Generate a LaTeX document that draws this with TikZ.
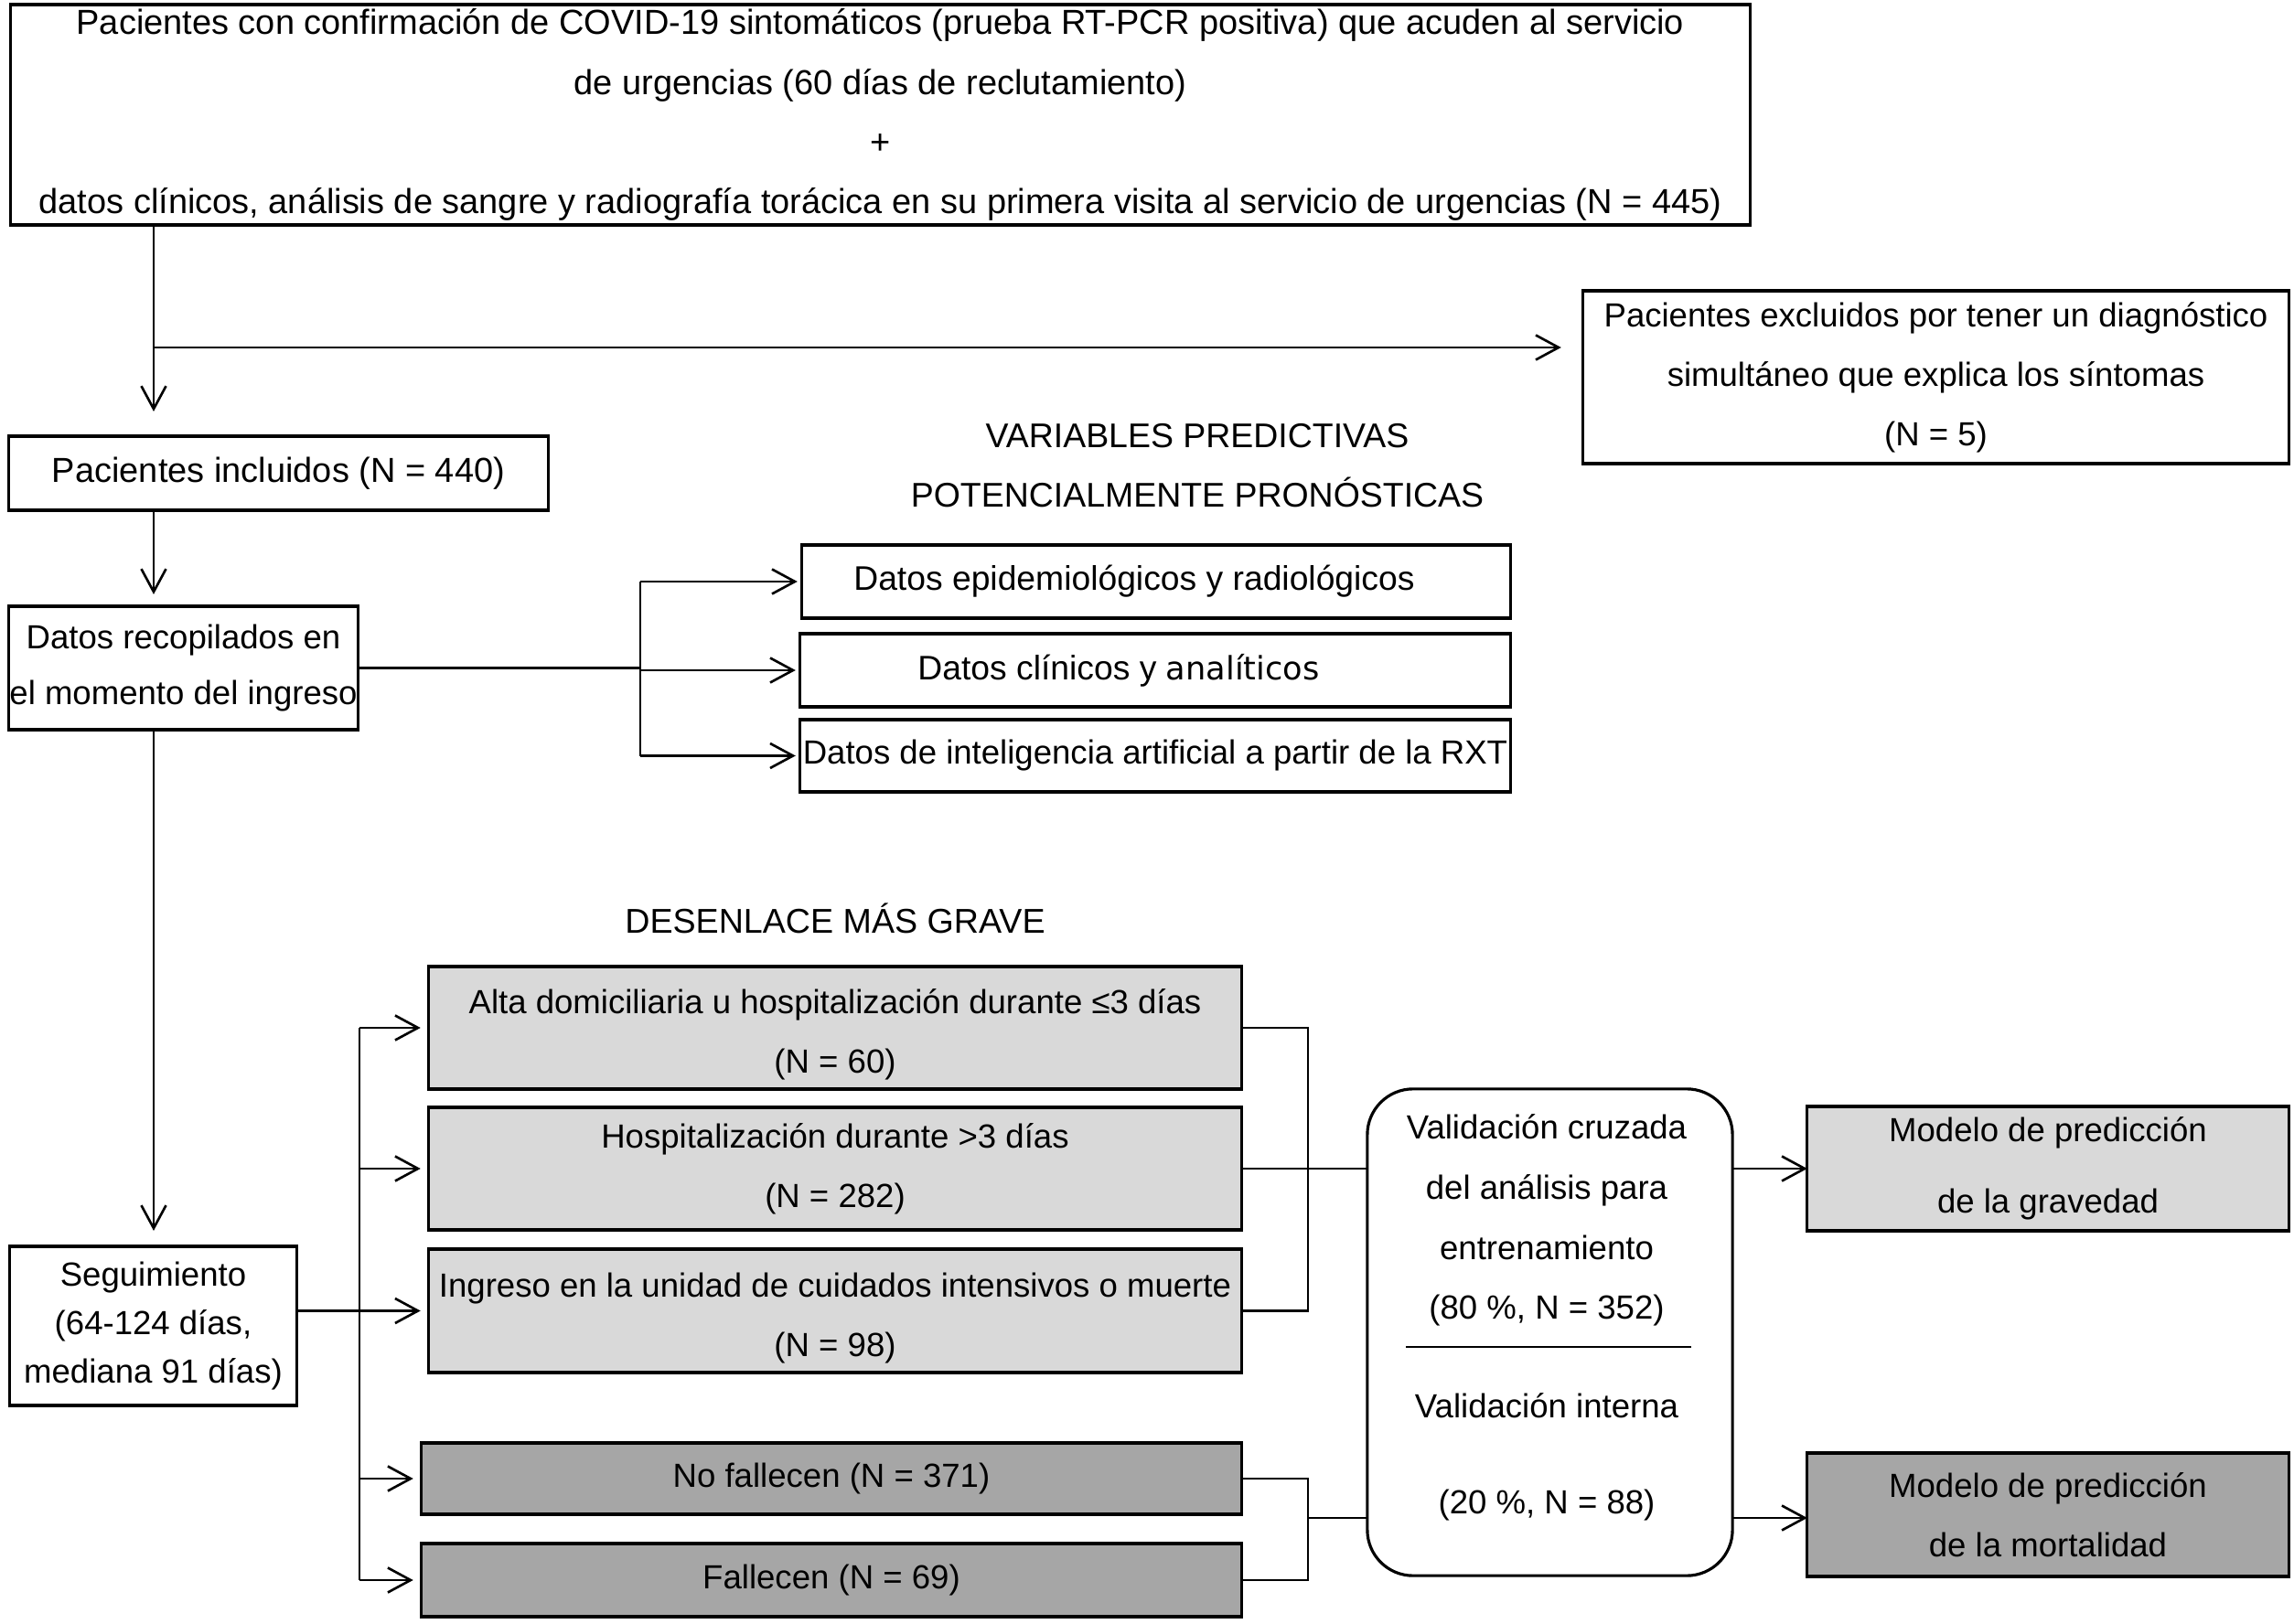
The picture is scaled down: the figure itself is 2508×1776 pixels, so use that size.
\documentclass[tikz,border=0pt]{standalone}
\usepackage{fontspec}
\setmainfont{Liberation Sans}
\newfontfamily\dvfont{DejaVu Sans}
\usetikzlibrary{arrows.meta}
\definecolor{lgray}{RGB}{217,217,217}
\definecolor{dgray}{RGB}{166,166,166}
\begin{document}
\begin{tikzpicture}[x=0.01cm,y=-0.01cm,
  font=\fontsize{10.4}{18.5}\selectfont,
  box/.style={draw, line width=0.9pt, inner sep=0pt, outer sep=0pt, align=center},
  lbox/.style={box, fill=lgray},
  dbox/.style={box, fill=dgray},
  plain/.style={align=center, inner sep=0pt},
  conn/.style={line width=0.75pt},
  arr/.style={conn, -{Straight Barb[length=0.25cm,width=0.27cm]}},
]
\useasboundingbox (0,0) rectangle (2508,1776);

% boxes
\node[box, minimum width=19.01cm, minimum height=2.41cm, font=\fontsize{10.8}{18.5}\selectfont] (top) at (962.5,125.5)
  {Pacientes con confirmación de COVID-19 sintomáticos (prueba RT-PCR positiva) que acuden al servicio\\de urgencias (60 días de reclutamiento)\\+\\datos clínicos, análisis de sangre y radiografía torácica en su primera visita al servicio de urgencias (N = 445)};
\node[box, minimum width=7.71cm, minimum height=1.89cm] (excl) at (2116.5,412.5)
  {Pacientes excluidos por tener un diagnóstico\\simultáneo que explica los síntomas\\(N = 5)};
\node[box, minimum width=5.89cm, minimum height=0.81cm, font=\fontsize{10.8}{18.5}\selectfont] (incl) at (304.5,517.5)
  {Pacientes incluidos (N = 440)};
\node[box, minimum width=3.81cm, minimum height=1.35cm, font=\fontsize{10.4}{17.6}\selectfont] (datos) at (200.5,730.5)
  {Datos recopilados en\\el momento del ingreso};
\node[plain, font=\fontsize{10.65}{18.5}\selectfont] (hvar) at (1309,509) {VARIABLES PREDICTIVAS\\POTENCIALMENTE PRONÓSTICAS};
\node[box, minimum width=7.74cm, minimum height=0.80cm, font=\fontsize{10.6}{18.5}\selectfont] (epid) at (1264,636)
  {Datos epidemiológicos y radiológicos\hspace*{0.48cm}};
\node[box, minimum width=7.76cm, minimum height=0.80cm, font=\fontsize{10.6}{18.5}\selectfont] (clin) at (1263,733)
  {Datos clínicos y {\dvfont\fontsize{10}{18}\selectfont analíticos}\hspace*{0.8cm}};
\node[box, minimum width=7.76cm, minimum height=0.79cm] (ia) at (1263,826.5)
  {Datos de inteligencia artificial a partir de la RXT};

\node[plain, font=\fontsize{10.7}{18.5}\selectfont] (hdes) at (913,1004) {DESENLACE MÁS GRAVE};
\node[box, minimum width=3.13cm, minimum height=1.74cm, font=\fontsize{10.4}{15.2}\selectfont] (seg) at (167.5,1450)
  {Seguimiento\\(64-124 días,\\mediana 91 días)};
\node[lbox, minimum width=8.88cm, minimum height=1.34cm] (alta) at (913,1124)
  {\rule{0pt}{0.42cm}Alta domiciliaria u hospitalización durante ≤3 días\\(N = 60)};
\node[lbox, minimum width=8.88cm, minimum height=1.34cm] (hosp) at (913,1278)
  {Hospitalización durante >3 días\\(N = 282)};
\node[lbox, minimum width=8.88cm, minimum height=1.35cm] (ing) at (913,1433.5)
  {\rule{0pt}{0.42cm}Ingreso en la unidad de cuidados intensivos o muerte\\(N = 98)};
\node[dbox, minimum width=8.96cm, minimum height=0.78cm] (nof) at (909,1617)
  {No fallecen (N = 371)};
\node[dbox, minimum width=8.96cm, minimum height=0.80cm] (fal) at (909,1728)
  {Fallecen (N = 69)};

\node[box, rounded corners=0.5cm, minimum width=3.99cm, minimum height=5.32cm] (rb) at (1694.5,1457) {};
\node[plain, font=\fontsize{10.4}{18.7}\selectfont] (rbt1) at (1691,1334.5)
  {Validación cruzada\\del análisis para\\entrenamiento\\(80 \%, N = 352)};
\node[plain] (rbt2) at (1691,1537) {Validación interna};
\node[plain] (rbt3) at (1691,1646) {(20 \%, N = 88)};
\coordinate (sepL) at (1537,1473);
\coordinate (sepR) at (1849,1473);
\draw[conn] (sepL) -- (sepR);

\node[lbox, minimum width=5.26cm, minimum height=1.36cm, font=\fontsize{10.4}{22.2}\selectfont] (grav) at (2239,1278)
  {Modelo de predicción\\de la gravedad};
\node[dbox, minimum width=5.26cm, minimum height=1.35cm] (mort) at (2239,1656.5)
  {Modelo de predicción\\de la mortalidad};

% connectors
\coordinate (xA) at (168,0);
\coordinate (brA) at (168,380);
\draw[arr, shorten >=0.27cm] (xA |- top.south) -- (xA |- incl.north);
\draw[arr, shorten >=0.24cm] (brA) -- (excl.west |- brA);
\draw[arr, shorten >=0.13cm] (xA |- incl.south) -- (xA |- datos.north);
\draw[arr, shorten >=0.17cm] (xA |- datos.south) -- (xA |- seg.north);

\coordinate (xB) at (700,0);
\draw[conn] (datos.east) -- (xB |- datos.east);
\draw[conn] (xB |- epid.west) -- (xB |- ia.west);
\foreach \n in {epid,clin,ia} \draw[arr, shorten >=0.05cm] (xB |- \n.west) -- (\n.west);

\coordinate (xC) at (393,0);
\draw[conn] (seg.east |- ing.west) -- (xC |- ing.west);
\draw[conn] (xC |- alta.west) -- (xC |- fal.west);
\foreach \n in {alta,hosp,ing,nof,fal} \draw[arr, shorten >=0.09cm] (xC |- \n.west) -- (\n.west);

\coordinate (xD) at (1430,0);
\coordinate (yE) at (0,1660);
\draw[conn] (alta.east) -- (xD |- alta.east) -- (xD |- ing.east) -- (ing.east);
\draw[conn] (hosp.east) -- (rb.west |- hosp.east);
\draw[conn] (nof.east) -- (xD |- nof.east) -- (xD |- fal.east) -- (fal.east);
\draw[conn] (xD |- yE) -- (rb.west |- yE);
\draw[arr] (rb.east |- grav.west) -- (grav.west);
\draw[arr] (rb.east |- yE) -- (mort.west |- yE);
\end{tikzpicture}
\end{document}
